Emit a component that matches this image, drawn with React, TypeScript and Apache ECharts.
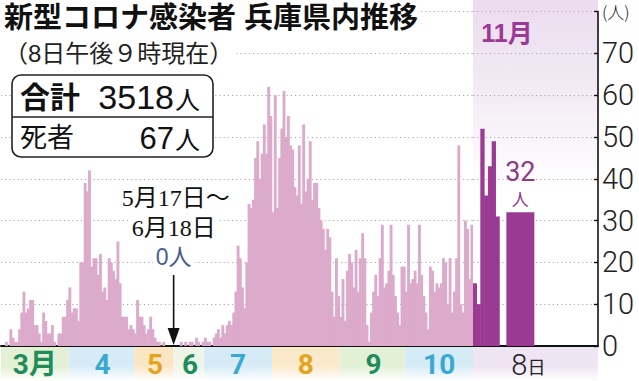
import { useEffect, useRef } from 'react';
import * as echarts from 'echarts';

// ---- data (daily new cases, Hyogo) ----
const marValues = [0, 0, 1, 0, 4, 2, 1, 1, 4, 8, 13, 8, 9, 11, 11, 5, 5, 3, 1, 8, 6, 3, 3, 5, 1, 0, 3, 3, 7, 7, 11];
const aprValues = [14, 8, 9, 9, 6, 20, 20, 39, 37, 42, 19, 21, 21, 17, 22, 13, 14, 11, 21, 20, 18, 16, 25, 15, 7, 7, 7, 4, 5, 4];
const mayValues = [3, 11, 7, 7, 5, 3, 4, 7, 4, 2, 1, 1, 0, 1, 0, 0]; // May 1-16
const zeroPeriodValues = [0, 0, 0, 0]; // 5/17-6/18 (compressed)
const junValues = [0, 1, 0, 1, 0, 1, 1, 0, 2, 1, 0, 1]; // Jun 19-30
const julValues = [2, 1, 1, 0, 2, 3, 4, 2, 5, 3, 5, 6, 5, 8, 13, 24, 21, 14, 9, 20, 34, 33, 35, 45, 49, 40, 46, 53, 46, 62, 55];
const augValues = [32, 60, 33, 45, 52, 61, 50, 55, 48, 47, 38, 36, 48, 34, 53, 37, 40, 49, 35, 39, 39, 33, 30, 28, 23, 28, 26, 13, 7, 21, 12];
const sepValues = [7, 16, 6, 18, 22, 20, 14, 23, 13, 21, 27, 21, 5, 1, 8, 13, 17, 12, 21, 29, 14, 15, 18, 29, 17, 12, 8, 5, 19, 19];
const octValues = [13, 29, 15, 16, 18, 15, 29, 17, 12, 8, 4, 19, 18, 13, 15, 14, 15, 21, 20, 10, 21, 8, 13, 21, 48, 10, 8, 30, 28, 16, 29];
const novDays = ['11/1', '11/2', '11/3', '11/4', '11/5', '11/6', '11/7'];
const novValues = [15, 10, 52, 36, 43, 49, 31];
const latestDay = '11/8';
const latestValue = 32;
const monthLabels = ['3月', '4', '5', '6', '7', '8', '9', '10'];
const yMax = 80;
const yInterval = 10;
const totalCases = 3518;
const deaths = 67;

// ---- layout ----
const W = 639;
const H = 381;
const G1_LEFT = 1;
const SPLIT_X = 473;
const AXIS_X = 598;
const BASE_Y = 346;
const TOP_Y = 11.6;
const NOV_SLOTS = 33;
const LATEST_SLOT = 12;

const PINK = '#dcaacb';
const PURPLE = '#9b3a92';
const GREEN = '#1f8c5c';
const BLUE = '#3aa9d1';
const ORANGE = '#e3a51e';

const segments = [marValues, aprValues, mayValues, zeroPeriodValues, junValues, julValues, augValues, sepValues, octValues];
const allValues: number[] = ([] as number[]).concat(...segments);
const categories = allValues.map((_, i) => String(i));

const half = zeroPeriodValues.length / 2;
const bandSlots = [
  marValues.length,
  aprValues.length,
  mayValues.length + half,
  half + junValues.length,
  julValues.length,
  augValues.length,
  sepValues.length,
  octValues.length,
];
const bandText = [GREEN, BLUE, ORANGE, GREEN, BLUE, ORANGE, GREEN, BLUE];
const bandFill = ['#e2f0d3', '#d6ebf6', '#fbe6c4', '#eef4e8', '#d6ebf6', '#fbe9cc', '#e2f0d6', '#d5ebf6'];

const G1_WIDTH = SPLIT_X - G1_LEFT;
const slotW = G1_WIDTH / allValues.length;
const novSlotW = (AXIS_X - SPLIT_X) / NOV_SLOTS;

const bandStarts: number[] = [];
{
  let s = 0;
  bandSlots.forEach((n) => {
    bandStarts.push(s);
    s += n;
  });
}
const labelIndex = new Map<number, number>();
bandSlots.forEach((n, k) => labelIndex.set(Math.floor(bandStarts[k] + n / 2), k));

const zeroStart = marValues.length + aprValues.length + mayValues.length;
const arrowX = G1_LEFT + (zeroStart + zeroPeriodValues.length / 2) * slotW;

const novCats = Array.from({ length: NOV_SLOTS }, (_, i) => (i < novDays.length ? novDays[i] : 's' + i));
const novData = novCats.map((_, i) => (i < novValues.length ? novValues[i] : '-'));
const latestCats = novCats.map((c, i) => (i === LATEST_SLOT ? latestDay : c));
const latestData = latestCats.map((_, i) => (i === LATEST_SLOT ? latestValue : '-'));

const JP = '"Noto Sans CJK JP"';
const SANS = `"Liberation Sans", ${JP}`;
const SERIF = `"Liberation Serif", ${JP}`;

function bandGradient(c: string) {
  return new echarts.graphic.LinearGradient(0, 0, 0, 1, [
    { offset: 0, color: c },
    { offset: 0.55, color: c },
    { offset: 1, color: '#ffffff' },
  ]);
}

function txt(x: number, y: number, text: string, size: number, family: string, fill: string, align = 'left', bg?: string, weight = 'normal') {
  return {
    type: 'text',
    x,
    y,
    z: 100,
    silent: true,
    style: {
      text,
      font: `${weight} ${size}px ${family}`,
      fill,
      align,
      textAlign: align,
      verticalAlign: 'middle',
      textVerticalAlign: 'middle',
      lineHeight: size + 1,
      backgroundColor: bg,
      padding: bg ? [0, 3, 0, 3] : 0,
    },
  };
}

const graphics: any[] = [];
// month bands under the axis
bandSlots.forEach((n, k) => {
  graphics.push({
    type: 'rect',
    z: -5,
    silent: true,
    shape: { x: G1_LEFT + bandStarts[k] * slotW, y: BASE_Y + 1, width: n * slotW, height: H - BASE_Y - 1 },
    style: { fill: bandGradient(bandFill[k]) },
  });
});
// November background
graphics.push({
  type: 'rect',
  z: -5,
  silent: true,
  shape: { x: SPLIT_X, y: 0, width: AXIS_X - SPLIT_X, height: BASE_Y },
  style: {
    fill: new echarts.graphic.LinearGradient(0, 0, 0, 1, [
      { offset: 0, color: '#ebdcee' },
      { offset: 0.28, color: '#f4ecf5' },
      { offset: 0.55, color: '#ffffff' },
      { offset: 1, color: '#ffffff' },
    ]),
  },
});
graphics.push({
  type: 'rect',
  z: -5,
  silent: true,
  shape: { x: SPLIT_X, y: BASE_Y + 1, width: AXIS_X - SPLIT_X, height: H - BASE_Y - 1 },
  style: { fill: bandGradient('#efe4f2') },
});
// titles
graphics.push(txt(1, 18, '新型コロナ感染者 兵庫県内推移', 29, SANS, '#111', 'left', '#fff', 'bold'));
graphics.push(txt(1, 53, '（8日午後９時現在）', 24, SANS, '#222', 'left', '#fff'));
graphics.push(txt(507, 33, '11月', 25, SANS, PURPLE, 'center', undefined, 'bold'));
// summary box
graphics.push({
  type: 'rect',
  z: 90,
  silent: true,
  shape: { x: 12, y: 75, width: 201, height: 82, r: 9 },
  style: { fill: '#fff', stroke: '#222', lineWidth: 1.6 },
});
graphics.push({
  type: 'line',
  z: 91,
  silent: true,
  shape: { x1: 12, y1: 117, x2: 213, y2: 117 },
  style: { stroke: '#222', lineWidth: 1.4 },
});
graphics.push(txt(20, 97, '合計', 30, SANS, '#111', 'left', undefined, 'bold'));
graphics.push(txt(174, 97, String(totalCases), 34, SANS, '#111', 'right'));
graphics.push(txt(175, 100, '人', 25, SANS, '#111'));
graphics.push(txt(20, 138, '死者', 27, SANS, '#111'));
graphics.push(txt(174, 138, String(deaths), 31, SANS, '#111', 'right'));
graphics.push(txt(175, 140, '人', 25, SANS, '#111'));
// annotation
graphics.push(txt(arrowX + 2, 198, '5月17日～', 24, SERIF, '#111', 'center', '#fff'));
graphics.push(txt(arrowX, 228, '6月18日', 24, SERIF, '#111', 'center', '#fff'));
graphics.push(txt(arrowX, 257, '0人', 23, SANS, '#4a5c8e', 'center', '#fff'));
graphics.push({
  type: 'line',
  z: 95,
  silent: true,
  shape: { x1: arrowX, y1: 275, x2: arrowX, y2: 332 },
  style: { stroke: '#111', lineWidth: 1.6 },
});
graphics.push({
  type: 'polygon',
  z: 95,
  silent: true,
  shape: { points: [[arrowX - 6, 328], [arrowX + 6, 328], [arrowX, 345]] },
  style: { fill: '#111' },
});

const splitLine = { show: true, lineStyle: { color: '#a8a8a8', type: [1.2, 3], width: 1 } };
const gridH = BASE_Y - TOP_Y;

const monthRich: Record<string, any> = {};
bandText.forEach((c, k) => {
  monthRich['m' + k] = { color: c, fontSize: 28, fontWeight: 'bold', fontFamily: `Roboto, ${JP}` };
});

const option: any = {
  animation: false,
  textStyle: { fontFamily: JP },
  grid: [
    { left: G1_LEFT, top: TOP_Y, width: G1_WIDTH, height: gridH },
    { left: SPLIT_X, top: TOP_Y, width: AXIS_X - SPLIT_X, height: gridH },
  ],
  xAxis: [
    {
      type: 'category',
      gridIndex: 0,
      data: categories,
      position: 'bottom',
      boundaryGap: true,
      axisLine: { show: true, lineStyle: { color: '#111', width: 2 } },
      axisTick: { show: false },
      axisLabel: {
        show: true,
        interval: (idx: number) => labelIndex.has(idx),
        margin: 4,
        hideOverlap: false,
        formatter: (_v: string, idx: number) => {
          const k = labelIndex.get(idx);
          return k === undefined ? '' : `{m${k}|${monthLabels[k]}}`;
        },
        rich: monthRich,
      },
    },
    {
      type: 'category',
      gridIndex: 1,
      data: novCats,
      position: 'bottom',
      axisLine: { show: true, lineStyle: { color: '#111', width: 2 } },
      axisTick: { show: false },
      axisLabel: { show: false },
    },
    {
      type: 'category',
      gridIndex: 1,
      data: latestCats,
      position: 'bottom',
      axisLine: { show: false },
      axisTick: { show: false },
      axisLabel: {
        show: true,
        interval: (idx: number) => idx === LATEST_SLOT,
        margin: 4,
        formatter: (_v: string, idx: number) => (idx === LATEST_SLOT ? '{d|8}{u|日}' : ''),
        rich: {
          d: { fontSize: 29, fontFamily: 'Roboto', fontWeight: 300, color: '#222', padding: [0, 0, 0, 16] },
          u: { fontSize: 18, fontFamily: JP, color: '#222', padding: [3, 0, 0, 0] },
        },
      },
    },
  ],
  yAxis: [
    {
      type: 'value',
      gridIndex: 0,
      min: 0,
      max: yMax,
      interval: yInterval,
      axisLine: { show: false },
      axisTick: { show: false },
      axisLabel: { show: false },
      splitLine,
    },
    {
      type: 'value',
      gridIndex: 1,
      position: 'right',
      min: 0,
      max: yMax,
      interval: yInterval,
      axisLine: { show: true, lineStyle: { color: '#111', width: 1.6 } },
      axisTick: { show: true, inside: true, length: 4, lineStyle: { color: '#111', width: 1.4 } },
      axisLabel: {
        show: true,
        margin: 4,
        color: '#222',
        fontSize: 29,
        fontFamily: 'Roboto',
        fontWeight: 300,
        formatter: (v: number) => (v === yMax ? '{u|(人)}' : String(v)),
        rich: { u: { fontSize: 17, fontFamily: JP, color: '#222' } },
      },
      splitLine,
    },
  ],
  series: [
    {
      type: 'bar',
      xAxisIndex: 0,
      yAxisIndex: 0,
      data: allValues,
      barWidth: slotW + 0.7,
      itemStyle: { color: PINK },
      z: 2,
    },
    {
      type: 'bar',
      xAxisIndex: 1,
      yAxisIndex: 1,
      data: novData,
      barWidth: novSlotW + 0.5,
      itemStyle: { color: PURPLE },
      z: 2,
    },
    {
      type: 'bar',
      xAxisIndex: 2,
      yAxisIndex: 1,
      data: latestData,
      barWidth: 28,
      itemStyle: { color: PURPLE },
      z: 2,
      label: {
        show: true,
        position: 'top',
        distance: 3,
        formatter: (p: any) => `{n|${p.value}}\n{u|人}`,
        rich: {
          n: { fontSize: 27, fontFamily: 'Roboto', color: '#8e3a8a', lineHeight: 31, align: 'center' },
          u: { fontSize: 17, fontFamily: JP, color: '#8e3a8a', lineHeight: 22, align: 'center' },
        },
      },
    },
  ],
  graphic: { elements: graphics },
};

export default function App() {
  const ref = useRef<HTMLDivElement>(null);
  useEffect(() => {
    const chart = echarts.init(ref.current!, undefined, { renderer: 'svg' });
    chart.setOption(option);
    return () => chart.dispose();
  }, []);
  return (
    <div
      ref={ref}
      style={{ position: 'fixed', left: 0, top: 0, width: W, height: H, background: '#fff' }}
    />
  );
}
